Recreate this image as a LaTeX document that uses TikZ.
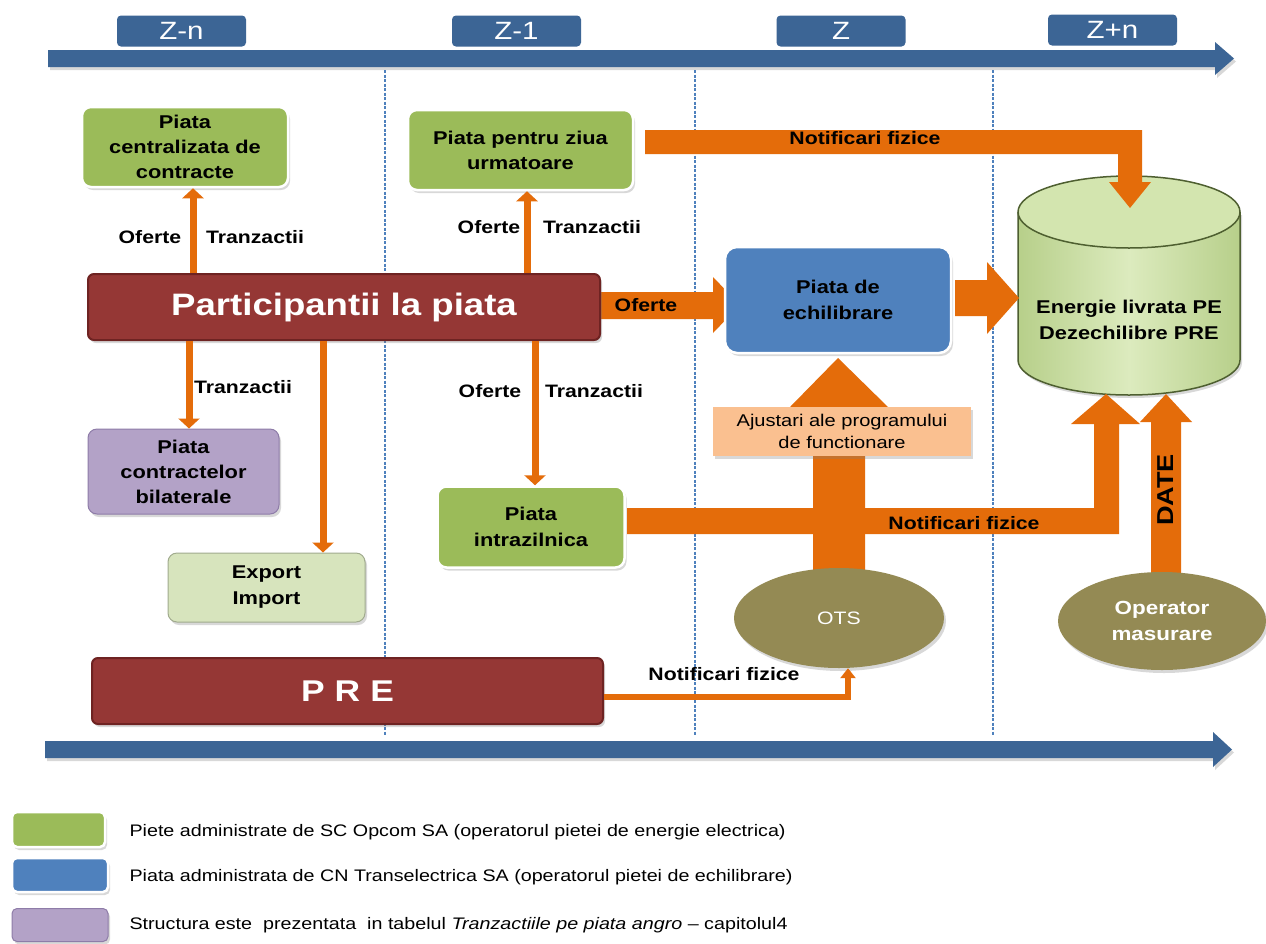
\documentclass[tikz,border=0pt]{standalone}
\usepackage{fontspec}
\setmainfont{Liberation Sans}
\newfontfamily\sw[FakeStretch=1.18]{Liberation Sans}
\usetikzlibrary{arrows.meta,shapes.geometric,shadows,calc}
\definecolor{tlblue}{HTML}{3C6595}
\definecolor{sepblue}{HTML}{4F81BD}
\definecolor{mkgreen}{HTML}{9BBB59}
\definecolor{ltgreen}{HTML}{D7E4BD}
\definecolor{dred}{HTML}{953735}
\definecolor{dredb}{HTML}{6E2322}
\definecolor{lilac}{HTML}{B3A2C7}
\definecolor{lilacb}{HTML}{8E7CA8}
\definecolor{bbl}{HTML}{4F81BD}
\definecolor{peach}{HTML}{FAC090}
\definecolor{olivec}{HTML}{948A54}
\definecolor{orng}{HTML}{E46C0A}
\definecolor{cylL}{HTML}{B7CF8A}
\definecolor{cylM}{HTML}{DCEBBE}
\definecolor{cylT}{HTML}{D3E5AF}
\definecolor{cylb}{HTML}{4E5F30}
\begin{document}
\begin{tikzpicture}[x=1pt,y=-1pt,
  shad/.style={drop shadow={shadow xshift=2pt,shadow yshift=-3pt,opacity=0.3}},
  box/.style={rounded corners=9pt, draw=white, line width=2.5pt, shad, align=center,
    text=black, font=\sw\bfseries\fontsize{18.5}{25}\selectfont, inner sep=0pt},
  redbox/.style={rounded corners=6pt, fill=dred, draw=dredb, line width=2pt, shad,
    text=white, inner sep=0pt},
  thinarr/.style={draw=orng, line width=7pt, -{Triangle[width=21pt,length=10pt]}},
  lbl/.style={font=\sw\bfseries\fontsize{18}{20}\selectfont, text=black},
  tbox/.style={fill=tlblue, rounded corners=4pt, text=white, font=\sw\fontsize{25}{25}\selectfont,
    minimum width=129pt, minimum height=31pt, inner sep=0pt},
  sepline/.style={draw=sepblue, line width=1.2pt, dash pattern=on 3pt off 1.5pt},
  ell/.style={ellipse, fill=olivec, text=white, align=center, inner sep=0pt, shad},
  legbox/.style={rounded corners=5pt, draw=white, line width=2.5pt, shad, inner sep=0pt},
  legtxt/.style={font=\sw\fontsize{16.7}{18}\selectfont, anchor=west, text=black},
  band/.style={fill=orng}
]
\useasboundingbox (0,0) rectangle (1266,943);
\fill[white] (0,0) rectangle (1266,943);

% timelines
\fill[tlblue, shad] (48,50) -- (1215,50) -- (1215,42) -- (1234,58.5) -- (1215,75) -- (1215,67) -- (48,67) -- cycle;
\fill[tlblue, shad] (45,741) -- (1213,741) -- (1213,732) -- (1232,749.5) -- (1213,767) -- (1213,758) -- (45,758) -- cycle;
\node[tbox] (zn) at (181.5,31) {Z-n};
\node[tbox] (z1) at (516.5,31) {Z-1};
\node[tbox] (z0) at (841,31) {Z};
\node[tbox] (zp) at (1112.5,30) {Z+n};

% separators
\draw[sepline] (385,70) -- (385,735);
\draw[sepline] (695,70) -- (695,735);
\draw[sepline] (993,70) -- (993,735);

% cylinder
\shade[left color=cylL, right color=cylL, middle color=cylM, shad]
  (1018,212) -- (1018,360) arc[start angle=180, end angle=0, x radius=111, y radius=35] -- (1240,212) -- cycle;
\draw[cylb, line width=1.5pt] (1018,212) -- (1018,360) arc[start angle=180, end angle=0, x radius=111, y radius=35] -- (1240,212);
\filldraw[fill=cylT, draw=cylb, line width=1.5pt] (1129,212) ellipse [x radius=111, y radius=36];

% block arrows
\fill[band] (600,292) -- (713,292) -- (713,277) -- (740,305) -- (713,333) -- (713,319) -- (600,319) -- cycle;
\fill[band] (955,280) -- (987,280) -- (987,262) -- (1019,298) -- (987,334) -- (987,316) -- (955,316) -- cycle;
\fill[band] (645,130) -- (1142,130) -- (1142,182) -- (1151,182) -- (1130,208) -- (1109,182) -- (1118,182) -- (1118,154) -- (645,154) -- cycle;
\fill[band] (627,508) -- (1094,508) -- (1094,424) -- (1071,424) -- (1106,394) -- (1140,424) -- (1119,424) -- (1119,534) -- (627,534) -- cycle;
\fill[band] (1151,573) -- (1151,422) -- (1140,422) -- (1166,394) -- (1192,422) -- (1181,422) -- (1181,573) -- cycle;
\fill[band] (813,572) -- (813,407) -- (790,407) -- (838,358) -- (888,407) -- (865,407) -- (865,572) -- cycle;

\node[lbl] (lofr) at (646,305) {Oferte};
\node[lbl] (ln1) at (865,138) {Notificari fizice};
\node[lbl] (ln2) at (964,523) {Notificari fizice};
\node[lbl, font=\sw\bfseries\fontsize{23}{23}\selectfont, rotate=90] (ldate) at (1166,490) {DATE};

% nodes
\node[box, fill=mkgreen, minimum width=206pt, minimum height=80pt] (pcc) at (185,147) {Piata\\centralizata de\\contracte};
\node[box, fill=mkgreen, minimum width=225pt, minimum height=80pt] (pzu) at (520.5,150) {Piata pentru ziua\\urmatoare};
\node[redbox, minimum width=512pt, minimum height=66pt, font=\sw\bfseries\fontsize{31}{31}\selectfont] (part) at (344,307) {Participantii la piata};
\node[box, fill=lilac, draw=lilacb, line width=1pt, minimum width=191pt, minimum height=85pt] (pcb) at (183.5,471.5) {Piata\\contractelor\\bilaterale};
\node[box, fill=ltgreen, draw=ltgreen!75!black, line width=1pt, minimum width=197pt, minimum height=69pt, font=\sw\bfseries\fontsize{18.5}{26}\selectfont] (exim) at (266.5,587.5) {Export\\Import};
\node[box, fill=mkgreen, minimum width=187pt, minimum height=81pt, font=\sw\bfseries\fontsize{18.5}{26}\selectfont] (pin) at (531,527) {Piata\\intrazilnica};
\node[redbox, minimum width=511pt, minimum height=66pt, font=\sw\bfseries\fontsize{30}{30}\selectfont] (pre) at (347.5,691) {P\,\,R\,\,E};
\node[box, fill=bbl, rounded corners=12pt, minimum width=226pt, minimum height=106pt, font=\sw\bfseries\fontsize{18.5}{26}\selectfont] (pde) at (838,300) {Piata de\\echilibrare};
\node[fill=peach, shad, minimum width=258pt, minimum height=49pt, inner sep=0pt, align=center, font=\sw\fontsize{17}{22}\selectfont] (aju) at (842,431.5) {Ajustari ale programului\\de functionare};
\node[ell, minimum width=210pt, minimum height=100pt, font=\sw\fontsize{18}{18}\selectfont] (ots) at (839,618) {OTS};
\node[ell, minimum width=208pt, minimum height=98pt, font=\sw\bfseries\fontsize{19}{26}\selectfont] (opm) at (1162,621) {Operator\\masurare};
\node[align=center, font=\sw\bfseries\fontsize{18.5}{26}\selectfont] (cyl) at (1129,320) {Energie livrata PE\\Dezechilibre PRE};

% thin arrows
\draw[thinarr] (193,0 |- part.north) -- (193,0 |- pcc.south);
\draw[thinarr] (527,0 |- part.north) -- (527,0 |- pzu.south);
\draw[thinarr] (189,0 |- part.south) -- (189,0 |- pcb.north);
\draw[thinarr] (323,0 |- part.south) -- (323,0 |- exim.north);
\draw[thinarr] (535,0 |- part.south) -- (535,0 |- pin.north);
\draw[draw=orng, line width=6pt, -{Triangle[width=15pt,length=10pt]}] (pre.east |- 0,697) -| (848,0 |- ots.south);

\node[lbl] (o1) at (150,237) {Oferte};
\node[lbl] (t1) at (255,237) {Tranzactii};
\node[lbl] (o2) at (489,227) {Oferte};
\node[lbl] (t2) at (592,227) {Tranzactii};
\node[lbl] (t3) at (243,387) {Tranzactii};
\node[lbl] (o3) at (490,391) {Oferte};
\node[lbl] (t4) at (594,391) {Tranzactii};
\node[lbl] (ln3) at (724,674) {Notificari fizice};

% legend
\node[legbox, fill=mkgreen, minimum width=93pt, minimum height=35pt] (lg1) at (58.5,829.5) {};
\node[legbox, fill=bbl, minimum width=96pt, minimum height=34pt] (lg2) at (60,875) {};
\node[legbox, fill=lilac, draw=lilacb, line width=1pt, minimum width=96pt, minimum height=33pt] (lg3) at (60,925) {};
\node[legtxt] (lt1) at (126,832) {Piete administrate de SC Opcom  SA (operatorul pietei de energie electrica)};
\node[legtxt] (lt2) at (126,877) {Piata administrata de CN Transelectrica SA (operatorul pietei de echilibrare)};
\node[legtxt] (lt3) at (126,925) {Structura este\ \ prezentata\ \ in tabelul \textit{Tranzactiile pe piata angro} – capitolul4};
\end{tikzpicture}
\end{document}
